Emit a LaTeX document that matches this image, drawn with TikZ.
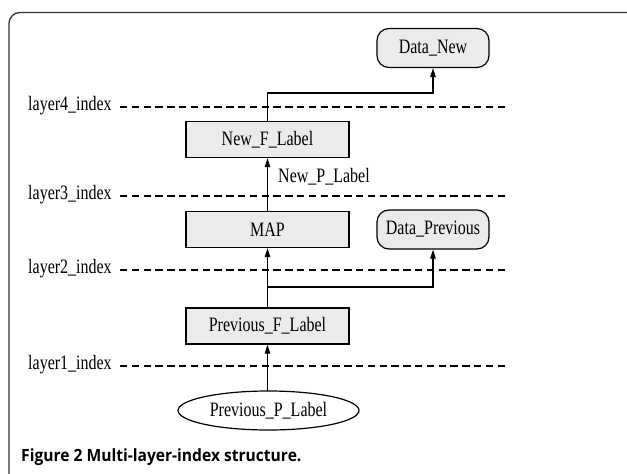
\documentclass[tikz,border=0pt]{standalone}
\usepackage{fontspec}
\usepackage{graphicx}
\setmainfont{Liberation Serif}
\newfontfamily\capfont{Open Sans}
\usetikzlibrary{arrows.meta,shapes.geometric}
\definecolor{boxfill}{HTML}{EBEBEB}
\definecolor{framecol}{HTML}{333333}
\newcommand{\tallt}[1]{\scalebox{1}[1.28]{#1}}
\tikzset{
  every node/.style={font=\fontsize{16}{18}\selectfont},
  sqbox/.style={draw, line width=1.2pt, fill=boxfill, minimum width=163pt, minimum height=36pt, inner sep=0pt},
  rbox/.style={draw, line width=1.2pt, fill=boxfill, rounded corners=12pt, minimum width=112pt, minimum height=39pt, inner sep=0pt},
  ovalbox/.style={draw, line width=1.2pt, ellipse, fill=white, minimum width=181pt, minimum height=39pt, inner sep=0pt},
  arr/.style={line width=1.2pt, -{Triangle[length=9pt,width=5.5pt]}},
  layerline/.style={line width=1.8pt, dash pattern=on 7.4pt off 4.4pt},
  layertext/.style={anchor=west, inner sep=0pt}
}
\begin{document}
\begin{tikzpicture}[x=1pt,y=-1pt]
\useasboundingbox (0,0) rectangle (627,474);
% frame
\draw[framecol, line width=1.3pt, rounded corners=11pt] (660,12.5) -- (9,12.5) -- (9,500);
% layer labels and dashed lines
\node[layertext] (l4) at (28,106) {\tallt{layer4\_index}};
\node[layertext] (l3) at (28,195) {\tallt{layer3\_index}};
\node[layertext] (l2) at (28,269) {\tallt{layer2\_index}};
\node[layertext] (l1) at (28,365) {\tallt{layer1\_index}};
\coordinate (s4) at (120,107);
\coordinate (s3) at (120,196);
\coordinate (s2) at (120,270);
\coordinate (s1) at (120,366);
\coordinate (e4) at (505,107);
\coordinate (e3) at (505,196);
\coordinate (e2) at (505,270);
\coordinate (e1) at (505,366);
\draw[layerline] (s4) -- (e4);
\draw[layerline] (s3) -- (e3);
\draw[layerline] (s2) -- (e2);
\draw[layerline] (s1) -- (e1);
% nodes
\node[rbox] (dn) at (433,48) {\tallt{Data\_New}};
\node[sqbox] (nf) at (267.5,139.5) {\tallt{New\_F\_Label}};
\node[sqbox] (map) at (267.5,229.5) {\tallt{MAP}};
\node[rbox] (dp) at (433,229.5) {\tallt{Data\_Previous}};
\node[sqbox] (pf) at (267.5,326) {\tallt{Previous\_F\_Label}};
\node[ovalbox] (pp) at (268.5,410.5) {\tallt{Previous\_P\_Label}};
% connectors
\coordinate (tn) at (267.5,93);
\coordinate (br) at (267.5,287);
\coordinate (ppt) at (267.5,391);
\draw[arr] (ppt) -- (pf.south);
\draw[arr] (pf.north) -- (map.south);
\draw[arr] (br) -| (dp.south);
\draw[arr] (map.north) -- (nf.south);
\node[anchor=west, inner sep=0pt] (npl) at (278,177) {\tallt{New\_P\_Label}};
\draw[arr] (nf.north) -- (tn) -| (dn.south);
% caption
\node[anchor=west, inner sep=0pt, font=\capfont\bfseries\fontsize{15.6}{17}\selectfont] (cap) at (21,457) {\scalebox{1}[1.08]{Figure 2 Multi-layer-index structure.}};
\end{tikzpicture}
\end{document}
